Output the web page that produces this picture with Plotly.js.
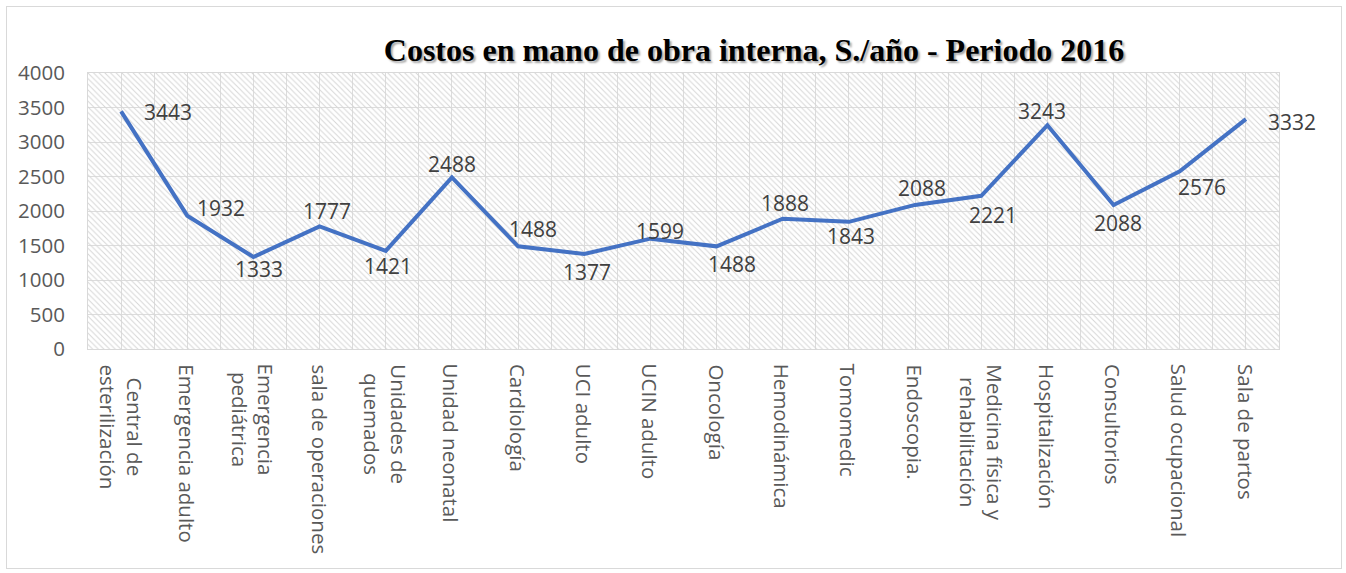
<!DOCTYPE html>
<html>
<head>
<meta charset="utf-8">
<script src="https://cdn.plot.ly/plotly-3.0.1.min.js"></script>
<style>
  html, body { margin: 0; padding: 0; background: #ffffff; }
  #wrap { position: relative; width: 1346px; height: 573px; }
  #frame { position: absolute; left: 6px; top: 6px; width: 1334px; height: 561px; border: 1px solid #d9d9d9; pointer-events: none; }
  #chart { position: absolute; left: 0; top: 0; width: 1346px; height: 573px; }
</style>
</head>
<body>
<div id="wrap">
  <div id="chart"></div>
  <div id="frame"></div>
</div>
<script>
// ---- data ----
const categories = [
  "Central de<br>esterilización",
  "Emergencia adulto",
  "Emergencia<br>pediátrica",
  "sala de operaciones",
  "Unidades de<br>quemados",
  "Unidad neonatal",
  "Cardiología",
  "UCI adulto",
  "UCIN adulto",
  "Oncología",
  "Hemodinámica",
  "Tomomedic",
  "Endoscopia.",
  "Medicina física y<br>rehabilitación",
  "Hospitalización",
  "Consultorios",
  "Salud ocupacional",
  "Sala de partos"
];
const costs = [3443, 1932, 1333, 1777, 1421, 2488, 1488, 1377, 1599, 1488, 1888, 1843, 2088, 2221, 3243, 2088, 2576, 3332];
const yTicks = [0, 500, 1000, 1500, 2000, 2500, 3000, 3500, 4000];
const titleText = "Costos en mano de obra interna, S./año - Periodo 2016";

// ---- label placement (screen px offsets, styling only) ----
const labelDx = [47, 34, 6, 7, 2, 0, 15, 3, 10, 15, 2, 2, 7, 12, -5, 4, 22, 46];
const labelDy = [1, -8, 12, -15, 15, -13, -17, 18, -8, 18, -16, 14, -17, 19, -14, 18, 16, 3];

const n = categories.length;
const idx = categories.map((_, i) => i);
const yMax = yTicks[yTicks.length - 1];

const background = {
  type: "scatter", mode: "none",
  x: [-0.5, n - 0.5, n - 0.5, -0.5],
  y: [0, 0, yMax, yMax],
  fill: "toself",
  fillcolor: "rgba(0,0,0,0)",
  fillpattern: { shape: "\\", fgcolor: "#d6d6d6", bgcolor: "rgba(0,0,0,0)", size: 4, solidity: 0.25 },
  hoverinfo: "skip", showlegend: false
};

const line = {
  type: "scatter", mode: "lines",
  x: idx, y: costs,
  line: { color: "#4472C4", width: 4 },
  showlegend: false
};

const annotations = [];
costs.forEach((v, i) => {
  annotations.push({
    x: i, y: v, xref: "x", yref: "y",
    text: String(v), showarrow: false,
    xanchor: "center", yanchor: "middle",
    xshift: labelDx[i], yshift: -labelDy[i],
    font: { family: "Open Sans", size: 21, color: "#404040" }
  });
});
categories.forEach((c, i) => {
  annotations.push({
    x: i, y: 0, xref: "x", yref: "y",
    text: c, showarrow: false,
    textangle: 90, align: "center",
    xanchor: "center", yanchor: "top",
    yshift: -13,
    font: { family: "Open Sans", size: 20.5, color: "#595959" }
  });
});

const layout = {
  width: 1346, height: 573,
  margin: { l: 88, r: 67, t: 73, b: 224 },
  paper_bgcolor: "rgba(0,0,0,0)",
  plot_bgcolor: "#ffffff",
  showlegend: false,
  title: {
    text: titleText,
    xref: "container", yref: "container",
    x: 754 / 1346, y: 1 - 50 / 573,
    xanchor: "center", yanchor: "middle",
    font: { family: "Liberation Serif", size: 32, color: "#000000", weight: "bold", shadow: "2px 2px 2px rgba(0,0,0,0.35)" }
  },
  xaxis: {
    range: [-0.5, n - 0.5],
    tick0: -0.5, dtick: 0.5,
    showgrid: true, gridcolor: "#dcdcdc", gridwidth: 1,
    showticklabels: false, ticks: "",
    showline: true, linecolor: "#d9d9d9", linewidth: 1, mirror: true,
    zeroline: false, fixedrange: true
  },
  yaxis: {
    range: [0, yMax],
    tickvals: yTicks,
    ticktext: yTicks.map(String),
    showgrid: true, gridcolor: "#dcdcdc", gridwidth: 1,
    ticks: "", ticklabelstandoff: 18,
    tickfont: { family: "Open Sans", size: 20.5, color: "#595959" },
    showline: true, linecolor: "#d9d9d9", linewidth: 1, mirror: true,
    zeroline: false, fixedrange: true
  },
  annotations: annotations
};

Plotly.newPlot("chart", [background, line], layout, { displayModeBar: false, staticPlot: true });
</script>
</body>
</html>
